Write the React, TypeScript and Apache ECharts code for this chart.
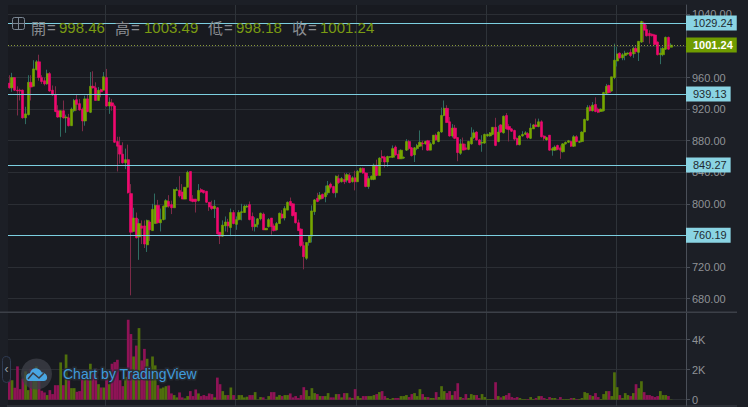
import React, { useEffect, useRef } from "react";
import * as echarts from "echarts";

// [open, close, low, high]
const candlesA: number[][] = [
  [953,947,946,963],[947,960,942,966],[960,944,943,960],[944,943,912,949],[944,943,931,946],[944,909,908,945],[909,914,901,923],[913,954,912,963],[954,948,931,963],[949,971,949,982],
  [970,980,969,982],[980,960,956,989],[960,955,952,963],[956,952,950,960],[952,965,951,970],[965,943,942,967],[944,938,937,950],[938,917,916,949],[918,910,909,925],[910,918,885,918],
  [918,909,908,931],[909,910,890,913],[909,899,898,914],[899,920,899,922],[918,931,916,933],[932,926,918,939],[927,919,918,933],[920,905,892,922],[905,933,899,937],[933,917,916,939],
  [916,949,915,967],[949,947,946,968],[947,931,931,954],[931,944,931,948],[945,942,935,946],[944,961,944,967],[960,924,923,971],[924,929,914,935],[928,924,918,933],[924,878,877,926],
  [879,873,841,885],[874,863,851,885],[863,852,851,878],[852,856,844,870],[856,814,813,875],[813,764,684,825],[765,782,765,795],[782,757,756,789],[758,775,729,781],[772,769,749,779],
  [772,749,744,779],[748,779,739,780],[777,767,753,779],[766,793,766,800],[775,798,775,813],[798,776,775,805],[776,780,765,794],[780,797,779,798],[796,804,780,806],[803,797,795,811],
  [799,795,787,804],[795,818,795,819],[817,818,817,821],[817,810,808,835],[815,806,806,825],[806,821,806,821],[821,840,821,842],[841,804,803,841],[806,803,802,811],[806,803,789,806],
  [804,817,803,825],[818,815,814,820],[817,814,813,817],[816,802,801,816],[802,796,791,802],[797,794,792,804],[794,797,782,805],[795,762,761,796],[764,759,749,764],[759,773,758,779],
];
const candlesB: number[][] = [
  [772,777,765,784],[777,772,764,781],[770,789,759,794],[789,775,774,792],[774,780,767,784],[780,789,779,792],[789,790,779,800],[789,797,789,799],[796,797,795,799],[799,780,779,803],
  [784,771,766,789],[771,774,765,783],[774,781,770,782],[781,788,779,789],[787,767,767,789],[767,769,767,769],[771,780,770,782],[782,771,761,782],[772,766,765,775],[767,775,766,777],
  [775,788,775,789],[787,782,781,792],[782,794,779,797],[792,802,792,803],[803,798,797,808],[800,785,784,801],[789,776,775,789],[776,766,766,780],[768,747,745,769],[747,733,717,752],
  [731,751,729,751],[751,759,747,760],[759,791,751,798],[790,805,786,806],[807,803,802,814],[806,811,804,815],[812,807,806,813],[809,814,802,823],[814,823,811,829],[825,821,819,827],
  [822,814,813,823],[814,835,808,836],[832,827,825,837],[828,832,827,834],[831,828,825,839],[830,837,827,839],[836,827,826,839],[828,833,827,835],[833,828,817,842],[828,841,828,843],
  [840,845,840,846],[845,839,838,846],[839,822,821,840],[822,832,819,835],[831,835,830,836],[831,849,830,851],[849,836,835,856],[836,858,836,859],[860,858,853,868],[859,853,846,861],
  [853,860,847,861],[859,860,858,860],[859,870,858,874],[872,862,861,874],[863,857,857,868],[857,868,857,869],[858,859,857,860],[868,879,867,882],[879,870,868,881],[871,861,860,872],
  [862,871,853,872],[870,874,868,876],[873,878,872,893],[877,876,868,880],[876,879,875,880],[880,868,867,881],[868,876,868,878],[876,887,875,887],[887,881,880,889],[879,891,878,892],
];
const candlesC: number[][] = [
  [891,912,890,922],[912,921,911,931],[921,903,903,925],[904,886,885,910],[886,896,884,901],[896,883,882,900],[884,865,854,884],[864,876,862,882],[876,868,868,884],[871,869,868,876],
  [869,879,868,880],[876,884,875,897],[884,890,882,894],[891,881,880,892],[881,875,874,882],[877,878,866,887],[877,888,876,889],[886,888,885,889],[886,890,885,891],[888,897,887,897],
  [897,874,873,909],[879,891,878,899],[900,891,890,901],[890,911,889,912],[912,895,894,915],[898,894,879,901],[895,892,891,896],[893,882,880,894],[883,875,874,884],[875,886,874,887],
  [886,888,885,892],[888,890,887,892],[889,884,882,891],[883,896,882,902],[895,900,895,901],[900,898,897,908],[898,904,897,908],[904,885,884,906],[886,883,880,887],[881,884,880,885],
  [887,868,867,887],[868,870,861,872],[868,872,867,874],[874,869,868,875],[871,868,857,874],[866,876,865,877],[876,878,875,879],[878,880,877,881],[879,873,872,880],[873,885,872,887],
  [885,879,878,887],[878,879,877,880],[879,891,878,892],[891,907,891,908],[906,922,905,925],[923,918,917,925],[918,925,917,929],[926,917,916,935],[920,916,915,922],[917,920,917,921],
  [918,941,917,942],[940,949,939,952],[950,941,940,951],[943,961,942,961],[960,982,958,1003],[981,990,974,999],[991,985,984,992],[985,989,982,991],[988,991,982,994],[990,991,989,992],
  [992,988,986,996],[990,997,985,999],[997,993,990,1001],[992,1006,981,1006],[1005,1031,1004,1032],[1029,1020,1005,1031],[1021,1013,1012,1027],[1016,1013,1003,1020],[1015,1013,1012,1016],[1014,1002,1001,1015],
  [1005,989,988,1006],[989,991,977,998],[989,997,987,999],[996,1011,995,1012],[1011,996,995,1012],[998.46,1001.24,998.18,1003.49],
];
const candles = [...candlesA, ...candlesB, ...candlesC];

const volumes: number[] = [
  1562,1298,792,2222,704,1408,1892,638,2068,1408,2222,1342,594,484,308,638,374,968,968,2486,
  968,3014,1298,770,770,528,572,1408,1408,1562,2398,1738,2068,1034,814,814,1738,1034,2398,2508,
  2662,1298,902,1518,5324,4378,2882,3608,4774,2618,3388,2728,1848,2882,2288,968,748,814,902,946,
  418,308,154,484,154,88,242,572,242,682,418,242,308,242,418,374,154,1474,1034,572,
  308,308,814,308,44,308,308,154,198,308,308,506,22,176,154,22,242,506,506,198,
  308,242,308,308,418,154,242,110,308,836,638,242,770,440,374,242,242,242,440,154,
  154,374,374,154,440,440,154,110,704,242,110,242,242,242,242,308,374,506,572,242,
  110,44,110,110,110,242,242,308,176,374,440,242,704,374,176,176,110,110,506,176,
  902,572,440,572,308,572,1100,176,110,374,110,374,308,308,110,374,176,44,44,44,
  1166,242,154,242,308,440,176,110,176,110,44,44,44,176,44,110,242,242,110,44,
  176,110,110,22,176,44,44,44,110,110,44,44,110,506,440,308,242,440,176,44,
  374,572,572,242,1826,836,308,110,440,308,242,440,1034,770,1232,506,308,308,242,176,
  242,572,308,308,242,22,
];

const BAND_COUNT = 251;
const categories: string[] = Array.from({ length: BAND_COUNT }, (_, i) => String(i + 1));
const timeGridBands = [36, 84, 129, 177, 225];
const priceTicks = [680, 720, 760, 800, 840, 880, 920, 960, 1000, 1040];
const volumeTicks = [0, 2000, 4000];
const levels = [1029.24, 939.13, 849.27, 760.19];
const lastPrice = 1001.24;
const headerLabels = ["開", "高", "低", "收"];
const headerValues = ["998.46", "1003.49", "998.18", "1001.24"];
const headerLabelX = [31, 115, 208, 292];
const headerEqualX = [47, 131, 224, 308];
const headerValueX = [59, 144, 236, 320];

const UP = "#76a600";
const DOWN = "#f0086e";
const UP_WICK = "#2f6d62";
const DOWN_WICK = "#7c2b48";
const UP_VOL = "#4f6f0c";
const DOWN_VOL = "#8f1356";
const GRID = "#2b2e34";
const AXIS_TEXT = "#8f9296";
const LEVEL = "#8ad4e3";
const LEVEL_LINE = "#7ccfe0";
const FONT = "'Liberation Sans', Arial, sans-serif";

echarts.graphic.registerShape(
  "tvCloud",
  echarts.graphic.extendPath(
    "M0 30C0 22 6 18 12 18C14 8 24 2 34 4C42 6 46 12 48 16C56 16 64 22 64 30C64 36 60 40 54 40L8 40C4 40 0 36 0 30Z",
    {}
  ) as any
);

const buildOption = () => ({
  animation: false,
  backgroundColor: "#1c1f26",
  grid: [
    { left: 8, right: 62, top: 5, bottom: 95, show: true, backgroundColor: "#181a20", borderWidth: 0 },
    { left: 8, right: 62, top: 313, bottom: 1, show: true, backgroundColor: "#181a20", borderWidth: 0 },
  ],
  xAxis: [0, 1].map((g) => ({
    type: "category",
    gridIndex: g,
    data: categories,
    boundaryGap: true,
    axisLine: { show: false },
    axisTick: { show: false },
    axisLabel: { show: false },
    splitLine: {
      show: true,
      interval: (i: number) => timeGridBands.includes(i),
      lineStyle: { color: "#2e3339", width: 1 },
    },
  })),
  yAxis: [
    {
      type: "value",
      gridIndex: 0,
      position: "right",
      min: 662.9,
      max: 1052,
      axisLine: { show: true, onZero: false, lineStyle: { color: "#4a4f58" } },
      axisTick: { show: true, length: 4, customValues: priceTicks, lineStyle: { color: "#4a4f58" } },
      axisLabel: {
        color: AXIS_TEXT,
        fontFamily: FONT,
        fontSize: 11,
        margin: 6,
        customValues: priceTicks,
        formatter: (v: number) => v.toFixed(2),
      },
      splitLine: { show: true, lineStyle: { color: GRID, width: 1 } },
    },
    {
      type: "value",
      gridIndex: 1,
      position: "right",
      min: -420,
      max: 5780,
      axisLine: { show: true, onZero: false, lineStyle: { color: "#4a4f58" } },
      axisTick: { show: true, length: 4, customValues: volumeTicks, lineStyle: { color: "#4a4f58" } },
      axisLabel: {
        color: AXIS_TEXT,
        fontFamily: FONT,
        fontSize: 11,
        margin: 6,
        customValues: volumeTicks,
        formatter: (v: number) => (v === 0 ? "0" : `${v / 1000}K`),
      },
      splitLine: { show: true, lineStyle: { color: GRID, width: 1 } },
    },
  ],
  series: [
    {
      name: "wicks",
      type: "candlestick",
      xAxisIndex: 0,
      yAxisIndex: 0,
      barWidth: 1,
      silent: true,
      data: candles,
      itemStyle: {
        color: UP_WICK,
        color0: DOWN_WICK,
        borderColor: UP_WICK,
        borderColor0: DOWN_WICK,
        borderWidth: 1,
      },
    },
    {
      name: "price",
      type: "candlestick",
      xAxisIndex: 0,
      yAxisIndex: 0,
      barWidth: 2.7,
      data: candles.map(([o, c]) => [o, c, Math.min(o, c), Math.max(o, c)]),
      itemStyle: { color: UP, color0: DOWN, borderColor: UP, borderColor0: DOWN, borderWidth: 0.6 },
      markLine: {
        silent: true,
        symbol: "none",
        animation: false,
        data: [
          ...levels.map((v) => ({
            yAxis: v,
            lineStyle: { color: LEVEL_LINE, width: 1, type: "solid" },
            label: {
              show: true,
              position: "end",
              distance: 0,
              formatter: v.toFixed(2),
              color: "#1f2a30",
              backgroundColor: LEVEL,
              fontFamily: FONT,
              fontSize: 11,
              padding: [2, 4, 2, 7],
            },
          })),
          {
            yAxis: lastPrice,
            lineStyle: { color: "#8a9c3a", width: 1, type: [1, 2] },
            label: {
              show: true,
              position: "end",
              distance: 0,
              formatter: lastPrice.toFixed(2),
              color: "#ffffff",
              fontWeight: "bold",
              backgroundColor: "#6f9c00",
              fontFamily: FONT,
              fontSize: 11,
              padding: [2, 4, 2, 7],
            },
          },
        ],
      },
    },
    {
      name: "volume",
      type: "bar",
      xAxisIndex: 1,
      yAxisIndex: 1,
      barWidth: 2.7,
      barGap: 0,
      data: volumes.map((v, i) => ({
        value: v,
        itemStyle: { color: candles[i][1] >= candles[i][0] ? UP_VOL : DOWN_VOL },
      })),
    },
  ],
  graphic: [
    { type: "rect", z: 50, shape: { x: 0, y: 311.5, width: 737, height: 1.5 }, style: { fill: "#3c4048" } },
    { type: "rect", z: 50, shape: { x: 7, y: 405.5, width: 730, height: 1 }, style: { fill: "#3c4048" } },
    {
      type: "rect",
      z: 60,
      shape: { x: 12.5, y: 17.5, width: 12, height: 12, r: 2 },
      style: { fill: "none", stroke: "#7b8794", lineWidth: 1 },
    },
    { type: "line", z: 60, shape: { x1: 18.5, y1: 18, x2: 18.5, y2: 29 }, style: { stroke: "#7b8794", lineWidth: 1 } },
    { type: "line", z: 60, shape: { x1: 13, y1: 23.5, x2: 24, y2: 23.5 }, style: { stroke: "#7b8794", lineWidth: 1 } },
    ...headerLabels.flatMap((t, i) => [
      {
        type: "text",
        z: 60,
        x: headerLabelX[i],
        y: 27,
        style: { text: t, fill: "#8b8e93", font: "15px 'Noto Sans CJK TC'", textVerticalAlign: "middle" },
      },
      {
        type: "text",
        z: 60,
        x: headerEqualX[i],
        y: 27,
        style: { text: "=", fill: "#8b8e93", font: `15px ${FONT}`, textVerticalAlign: "middle" },
      },
      {
        type: "text",
        z: 60,
        x: headerValueX[i],
        y: 27,
        style: { text: headerValues[i], fill: "#7a9a12", font: `15px ${FONT}`, textVerticalAlign: "middle" },
      },
    ]),
    {
      type: "rect",
      z: 70,
      shape: { x: 2.5, y: 356.5, width: 8, height: 26, r: 4 },
      style: { fill: "#1c1f26", stroke: "#2f3b52", lineWidth: 1 },
    },
    {
      type: "text",
      z: 71,
      x: 6.5,
      y: 369,
      style: { text: "‹", fill: "#9aa0a8", font: `12px ${FONT}`, textAlign: "center", textVerticalAlign: "middle" },
    },
    { type: "circle", z: 70, shape: { cx: 36.5, cy: 374, r: 15.5 }, style: { fill: "rgba(62,64,72,0.75)" } },
    { type: "tvCloud", z: 71, x: 26, y: 367, scaleX: 0.33, scaleY: 0.35, style: { fill: "#49a6e2" } },
    {
      type: "polyline",
      z: 72,
      shape: { points: [[28, 379], [33, 373], [39, 378], [44, 373]] },
      style: { fill: "none", stroke: "#3a3c44", lineWidth: 1.5 },
    },
    {
      type: "text",
      z: 72,
      x: 63,
      y: 374,
      style: {
        text: "Chart by TradingView",
        fill: "#3f9bdc",
        font: `14px ${FONT}`,
        textVerticalAlign: "middle",
        stroke: "rgba(40,44,52,0.85)",
        lineWidth: 3,
      },
    },
  ],
});

export default function App() {
  const ref = useRef<HTMLDivElement>(null);
  useEffect(() => {
    document.body.style.margin = "0";
    document.body.style.background = "#1c1f26";
    const chart = echarts.init(ref.current!, undefined, { renderer: "svg" });
    chart.setOption(buildOption() as any);
    return () => chart.dispose();
  }, []);
  return <div ref={ref} style={{ width: 748, height: 407 }} />;
}
